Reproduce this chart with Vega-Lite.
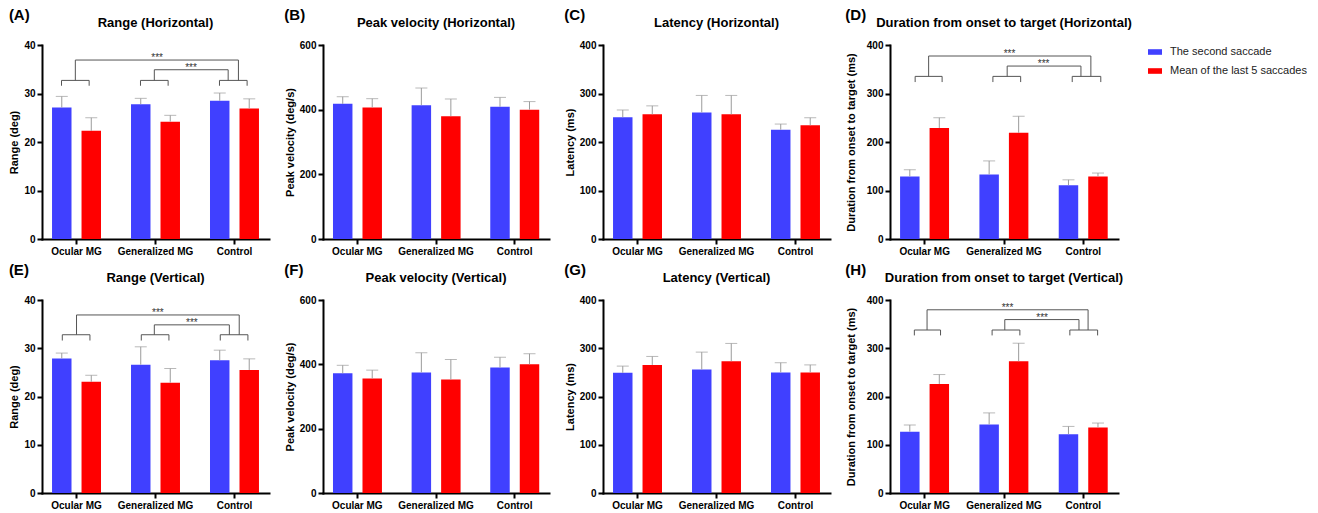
{
"$schema": "https://vega.github.io/schema/vega-lite/v6.json",
"padding": {"left": 8, "top": 8, "right": 0, "bottom": 0},
"datasets": {
"bars": [
{"panel":"A","group":"Ocular MG","series":"The second saccade","mean":27.1,"upper":29.4},
{"panel":"A","group":"Ocular MG","series":"Mean of the last 5 saccades","mean":22.3,"upper":25.0},
{"panel":"A","group":"Generalized MG","series":"The second saccade","mean":27.8,"upper":29.0},
{"panel":"A","group":"Generalized MG","series":"Mean of the last 5 saccades","mean":24.2,"upper":25.5},
{"panel":"A","group":"Control","series":"The second saccade","mean":28.5,"upper":30.1},
{"panel":"A","group":"Control","series":"Mean of the last 5 saccades","mean":26.9,"upper":28.9},
{"panel":"B","group":"Ocular MG","series":"The second saccade","mean":418,"upper":440},
{"panel":"B","group":"Ocular MG","series":"Mean of the last 5 saccades","mean":407,"upper":434},
{"panel":"B","group":"Generalized MG","series":"The second saccade","mean":414,"upper":467},
{"panel":"B","group":"Generalized MG","series":"Mean of the last 5 saccades","mean":380,"upper":433},
{"panel":"B","group":"Control","series":"The second saccade","mean":409,"upper":438},
{"panel":"B","group":"Control","series":"Mean of the last 5 saccades","mean":400,"upper":425},
{"panel":"C","group":"Ocular MG","series":"The second saccade","mean":251,"upper":266},
{"panel":"C","group":"Ocular MG","series":"Mean of the last 5 saccades","mean":257,"upper":274.5},
{"panel":"C","group":"Generalized MG","series":"The second saccade","mean":261,"upper":296},
{"panel":"C","group":"Generalized MG","series":"Mean of the last 5 saccades","mean":257,"upper":296},
{"panel":"C","group":"Control","series":"The second saccade","mean":225.5,"upper":237},
{"panel":"C","group":"Control","series":"Mean of the last 5 saccades","mean":234.5,"upper":250},
{"panel":"D","group":"Ocular MG","series":"The second saccade","mean":129,"upper":143},
{"panel":"D","group":"Ocular MG","series":"Mean of the last 5 saccades","mean":229,"upper":250},
{"panel":"D","group":"Generalized MG","series":"The second saccade","mean":133,"upper":161},
{"panel":"D","group":"Generalized MG","series":"Mean of the last 5 saccades","mean":219,"upper":253},
{"panel":"D","group":"Control","series":"The second saccade","mean":111,"upper":122},
{"panel":"D","group":"Control","series":"Mean of the last 5 saccades","mean":129,"upper":136},
{"panel":"E","group":"Ocular MG","series":"The second saccade","mean":27.9,"upper":29.0},
{"panel":"E","group":"Ocular MG","series":"Mean of the last 5 saccades","mean":23.05,"upper":24.4},
{"panel":"E","group":"Generalized MG","series":"The second saccade","mean":26.6,"upper":30.3},
{"panel":"E","group":"Generalized MG","series":"Mean of the last 5 saccades","mean":22.85,"upper":25.8},
{"panel":"E","group":"Control","series":"The second saccade","mean":27.5,"upper":29.6},
{"panel":"E","group":"Control","series":"Mean of the last 5 saccades","mean":25.5,"upper":27.8},
{"panel":"F","group":"Ocular MG","series":"The second saccade","mean":372,"upper":397},
{"panel":"F","group":"Ocular MG","series":"Mean of the last 5 saccades","mean":356,"upper":382},
{"panel":"F","group":"Generalized MG","series":"The second saccade","mean":375,"upper":436},
{"panel":"F","group":"Generalized MG","series":"Mean of the last 5 saccades","mean":353,"upper":415},
{"panel":"F","group":"Control","series":"The second saccade","mean":390,"upper":422},
{"panel":"F","group":"Control","series":"Mean of the last 5 saccades","mean":400,"upper":433},
{"panel":"G","group":"Ocular MG","series":"The second saccade","mean":249,"upper":263},
{"panel":"G","group":"Ocular MG","series":"Mean of the last 5 saccades","mean":265.5,"upper":283},
{"panel":"G","group":"Generalized MG","series":"The second saccade","mean":256,"upper":292},
{"panel":"G","group":"Generalized MG","series":"Mean of the last 5 saccades","mean":273,"upper":310},
{"panel":"G","group":"Control","series":"The second saccade","mean":250,"upper":270},
{"panel":"G","group":"Control","series":"Mean of the last 5 saccades","mean":250,"upper":265.5},
{"panel":"H","group":"Ocular MG","series":"The second saccade","mean":127,"upper":141},
{"panel":"H","group":"Ocular MG","series":"Mean of the last 5 saccades","mean":226,"upper":245.5},
{"panel":"H","group":"Generalized MG","series":"The second saccade","mean":142,"upper":166},
{"panel":"H","group":"Generalized MG","series":"Mean of the last 5 saccades","mean":273,"upper":310.5},
{"panel":"H","group":"Control","series":"The second saccade","mean":122,"upper":138},
{"panel":"H","group":"Control","series":"Mean of the last 5 saccades","mean":136,"upper":145}
],
"brackets": [
{"panel":"A","x":-0.19,"x2":0.16,"y":32.7,"y2":32.7},
{"panel":"A","x":-0.19,"x2":-0.19,"y":31.6,"y2":32.7},
{"panel":"A","x":0.16,"x2":0.16,"y":31.6,"y2":32.7},
{"panel":"A","x":0.81,"x2":1.16,"y":32.7,"y2":32.7},
{"panel":"A","x":0.81,"x2":0.81,"y":31.6,"y2":32.7},
{"panel":"A","x":1.16,"x2":1.16,"y":31.6,"y2":32.7},
{"panel":"A","x":1.81,"x2":2.16,"y":32.7,"y2":32.7},
{"panel":"A","x":1.81,"x2":1.81,"y":31.6,"y2":32.7},
{"panel":"A","x":2.16,"x2":2.16,"y":31.6,"y2":32.7},
{"panel":"A","x":-0.015,"x2":-0.015,"y":32.7,"y2":36.9},
{"panel":"A","x":-0.015,"x2":2.05,"y":36.9,"y2":36.9},
{"panel":"A","x":2.05,"x2":2.05,"y":32.7,"y2":36.9},
{"panel":"A","x":0.985,"x2":0.985,"y":32.7,"y2":34.9},
{"panel":"A","x":0.985,"x2":1.92,"y":34.9,"y2":34.9},
{"panel":"A","x":1.92,"x2":1.92,"y":32.7,"y2":34.9},
{"panel":"E","x":-0.18,"x2":0.17,"y":32.8,"y2":32.8},
{"panel":"E","x":-0.18,"x2":-0.18,"y":31.6,"y2":32.8},
{"panel":"E","x":0.17,"x2":0.17,"y":31.6,"y2":32.8},
{"panel":"E","x":0.82,"x2":1.17,"y":32.8,"y2":32.8},
{"panel":"E","x":0.82,"x2":0.82,"y":31.6,"y2":32.8},
{"panel":"E","x":1.17,"x2":1.17,"y":31.6,"y2":32.8},
{"panel":"E","x":1.82,"x2":2.17,"y":32.8,"y2":32.8},
{"panel":"E","x":1.82,"x2":1.82,"y":31.6,"y2":32.8},
{"panel":"E","x":2.17,"x2":2.17,"y":31.6,"y2":32.8},
{"panel":"E","x":0.0,"x2":0.0,"y":32.8,"y2":36.9},
{"panel":"E","x":0.0,"x2":2.06,"y":36.9,"y2":36.9},
{"panel":"E","x":2.06,"x2":2.06,"y":32.8,"y2":36.9},
{"panel":"E","x":0.985,"x2":0.985,"y":32.8,"y2":34.85},
{"panel":"E","x":0.985,"x2":1.935,"y":34.85,"y2":34.85},
{"panel":"E","x":1.935,"x2":1.935,"y":32.8,"y2":34.85},
{"panel":"D","x":-0.12,"x2":0.22,"y":335.3,"y2":335.3},
{"panel":"D","x":-0.12,"x2":-0.12,"y":323.6,"y2":335.3},
{"panel":"D","x":0.22,"x2":0.22,"y":323.6,"y2":335.3},
{"panel":"D","x":0.86,"x2":1.21,"y":335.3,"y2":335.3},
{"panel":"D","x":0.86,"x2":0.86,"y":323.6,"y2":335.3},
{"panel":"D","x":1.21,"x2":1.21,"y":323.6,"y2":335.3},
{"panel":"D","x":1.86,"x2":2.22,"y":335.3,"y2":335.3},
{"panel":"D","x":1.86,"x2":1.86,"y":323.6,"y2":335.3},
{"panel":"D","x":2.22,"x2":2.22,"y":323.6,"y2":335.3},
{"panel":"D","x":0.05,"x2":0.05,"y":335.3,"y2":377.3},
{"panel":"D","x":0.05,"x2":2.095,"y":377.3,"y2":377.3},
{"panel":"D","x":2.095,"x2":2.095,"y":335.3,"y2":377.3},
{"panel":"D","x":1.04,"x2":1.04,"y":335.3,"y2":356.6},
{"panel":"D","x":1.04,"x2":1.97,"y":356.6,"y2":356.6},
{"panel":"D","x":1.97,"x2":1.97,"y":335.3,"y2":356.6},
{"panel":"H","x":-0.13,"x2":0.2,"y":337.8,"y2":337.8},
{"panel":"H","x":-0.13,"x2":-0.13,"y":326.6,"y2":337.8},
{"panel":"H","x":0.2,"x2":0.2,"y":326.6,"y2":337.8},
{"panel":"H","x":0.85,"x2":1.2,"y":337.8,"y2":337.8},
{"panel":"H","x":0.85,"x2":0.85,"y":326.6,"y2":337.8},
{"panel":"H","x":1.2,"x2":1.2,"y":326.6,"y2":337.8},
{"panel":"H","x":1.83,"x2":2.18,"y":337.8,"y2":337.8},
{"panel":"H","x":1.83,"x2":1.83,"y":326.6,"y2":337.8},
{"panel":"H","x":2.18,"x2":2.18,"y":326.6,"y2":337.8},
{"panel":"H","x":0.03,"x2":0.03,"y":337.8,"y2":379.7},
{"panel":"H","x":0.03,"x2":2.06,"y":379.7,"y2":379.7},
{"panel":"H","x":2.06,"x2":2.06,"y":337.8,"y2":379.7},
{"panel":"H","x":1.01,"x2":1.01,"y":337.8,"y2":359.4},
{"panel":"H","x":1.01,"x2":1.945,"y":359.4,"y2":359.4},
{"panel":"H","x":1.945,"x2":1.945,"y":337.8,"y2":359.4}
],
"stars": [
{"panel":"A","x":1.02,"y":36.9,"label":"***"},
{"panel":"A","x":1.45,"y":34.9,"label":"***"},
{"panel":"E","x":1.03,"y":36.9,"label":"***"},
{"panel":"E","x":1.46,"y":34.85,"label":"***"},
{"panel":"D","x":1.07,"y":377.3,"label":"***"},
{"panel":"D","x":1.5,"y":356.6,"label":"***"},
{"panel":"H","x":1.045,"y":379.7,"label":"***"},
{"panel":"H","x":1.48,"y":359.4,"label":"***"}
]
},
"config": {
"font": "Liberation Sans",
"view": {"stroke": null},
"axis": {"domainColor": "#000", "domainWidth": 2, "domainCap": "square", "tickColor": "#000", "tickWidth": 2, "tickSize": 5, "labelFontSize": 10, "labelFontWeight": "bold", "labelColor": "#000", "labelPadding": 2, "titleFontSize": 11, "titleFontWeight": "bold", "titleColor": "#000", "grid": false},
"axisY": {"titlePadding": 4},
"axisX": {"labelAngle": 0, "title": null},
"title": {"fontSize": 13, "fontWeight": "bold", "color": "#000", "offset": 10},
"legend": {"title": null, "offset": 16, "labelFontSize": 11, "labelColor": "#222", "symbolType": "M-1,-0.4H1V0.4H-1Z", "symbolSize": 196, "symbolStrokeWidth": 0, "rowPadding": 7, "labelOffset": 8}
},
"vconcat": [
{"hconcat": [
{"title": {"text": "(A)", "anchor": "start", "fontSize": 15, "offset": -6},
 "vconcat": [{
 "title": "Range  (Horizontal)", "width": 227, "height": 194,
 "layer": [
  {"data": {"name": "bars"}, "transform": [{"filter": "datum.panel === 'A'"}],
   "encoding": {
    "x": {"field": "group", "type": "nominal", "sort": ["Ocular MG", "Generalized MG", "Control"], "scale": {"paddingInner": 0.38, "paddingOuter": 0.127}},
    "xOffset": {"field": "series", "type": "nominal", "sort": ["The second saccade", "Mean of the last 5 saccades"], "scale": {"paddingInner": 0.34, "paddingOuter": 0}},
    "y": {"field": "mean", "type": "quantitative", "scale": {"domain": [0, 40], "nice": false}, "axis": {"title": "Range (deg)", "values": [0, 10, 20, 30, 40]}}
   },
   "layer": [
    {"mark": {"type": "bar"}, "encoding": {"color": {"field": "series", "type": "nominal", "scale": {"domain": ["The second saccade", "Mean of the last 5 saccades"], "range": ["#4040ff", "#ff0000"]}}}},
    {"mark": {"type": "rule", "color": "#9b9b9b", "strokeWidth": 1}, "encoding": {"y2": {"field": "upper"}}},
    {"mark": {"type": "tick", "color": "#9b9b9b", "thickness": 1, "size": 12}, "encoding": {"y": {"field": "upper", "type": "quantitative", "axis": {"title": "Range (deg)", "values": [0, 10, 20, 30, 40]}}}}
   ]},
  {"data": {"name": "brackets"}, "transform": [{"filter": "datum.panel === 'A'"}],
   "mark": {"type": "rule", "color": "#555555", "strokeWidth": 1},
   "encoding": {"x": {"field": "x", "type": "quantitative", "scale": {"domain": [-0.437, 2.437], "nice": false, "zero": false}, "axis": null}, "x2": {"field": "x2"}, "y": {"field": "y", "type": "quantitative", "axis": {"title": "Range (deg)", "values": [0, 10, 20, 30, 40]}}, "y2": {"field": "y2"}}},
  {"data": {"name": "stars"}, "transform": [{"filter": "datum.panel === 'A'"}],
   "mark": {"type": "text", "fontSize": 10, "color": "#333333", "baseline": "alphabetic", "dy": 1},
   "encoding": {"x": {"field": "x", "type": "quantitative", "scale": {"domain": [-0.437, 2.437], "nice": false, "zero": false}, "axis": null}, "y": {"field": "y", "type": "quantitative", "axis": {"title": "Range (deg)", "values": [0, 10, 20, 30, 40]}}, "text": {"field": "label"}}}
 ],
 "resolve": {"scale": {"x": "independent"}, "axis": {"x": "independent"}}
}]},
{"title": {"text": "(B)", "anchor": "start", "fontSize": 15, "offset": -6},
 "vconcat": [{
 "title": "Peak velocity (Horizontal)", "width": 226, "height": 194,
 "data": {"name": "bars"}, "transform": [{"filter": "datum.panel === 'B'"}],
 "encoding": {
  "x": {"field": "group", "type": "nominal", "sort": ["Ocular MG", "Generalized MG", "Control"], "scale": {"paddingInner": 0.38, "paddingOuter": 0.127}},
  "xOffset": {"field": "series", "type": "nominal", "sort": ["The second saccade", "Mean of the last 5 saccades"], "scale": {"paddingInner": 0.34, "paddingOuter": 0}},
  "y": {"field": "mean", "type": "quantitative", "scale": {"domain": [0, 600], "nice": false}, "axis": {"title": "Peak velocity  (deg/s)", "values": [0, 200, 400, 600]}}
 },
 "layer": [
  {"mark": {"type": "bar"}, "encoding": {"color": {"field": "series", "type": "nominal", "scale": {"domain": ["The second saccade", "Mean of the last 5 saccades"], "range": ["#4040ff", "#ff0000"]}}}},
  {"mark": {"type": "rule", "color": "#9b9b9b", "strokeWidth": 1}, "encoding": {"y2": {"field": "upper"}}},
  {"mark": {"type": "tick", "color": "#9b9b9b", "thickness": 1, "size": 12}, "encoding": {"y": {"field": "upper", "type": "quantitative", "axis": {"title": "Peak velocity  (deg/s)", "values": [0, 200, 400, 600]}}}}
 ]
}]},
{"title": {"text": "(C)", "anchor": "start", "fontSize": 15, "offset": -6},
 "vconcat": [{
 "title": "Latency (Horizontal)", "width": 227, "height": 194,
 "data": {"name": "bars"}, "transform": [{"filter": "datum.panel === 'C'"}],
 "encoding": {
  "x": {"field": "group", "type": "nominal", "sort": ["Ocular MG", "Generalized MG", "Control"], "scale": {"paddingInner": 0.38, "paddingOuter": 0.127}},
  "xOffset": {"field": "series", "type": "nominal", "sort": ["The second saccade", "Mean of the last 5 saccades"], "scale": {"paddingInner": 0.34, "paddingOuter": 0}},
  "y": {"field": "mean", "type": "quantitative", "scale": {"domain": [0, 400], "nice": false}, "axis": {"title": "Latency (ms)", "values": [0, 100, 200, 300, 400]}}
 },
 "layer": [
  {"mark": {"type": "bar"}, "encoding": {"color": {"field": "series", "type": "nominal", "scale": {"domain": ["The second saccade", "Mean of the last 5 saccades"], "range": ["#4040ff", "#ff0000"]}}}},
  {"mark": {"type": "rule", "color": "#9b9b9b", "strokeWidth": 1}, "encoding": {"y2": {"field": "upper"}}},
  {"mark": {"type": "tick", "color": "#9b9b9b", "thickness": 1, "size": 12}, "encoding": {"y": {"field": "upper", "type": "quantitative", "axis": {"title": "Latency (ms)", "values": [0, 100, 200, 300, 400]}}}}
 ]
}]},
{"title": {"text": "(D)", "anchor": "start", "fontSize": 15, "offset": -6},
 "vconcat": [{
 "title": "Duration from onset to target (Horizontal)", "width": 228, "height": 194,
 "layer": [
  {"data": {"name": "bars"}, "transform": [{"filter": "datum.panel === 'D'"}],
   "encoding": {
    "x": {"field": "group", "type": "nominal", "sort": ["Ocular MG", "Generalized MG", "Control"], "scale": {"paddingInner": 0.38, "paddingOuter": 0.127}},
    "xOffset": {"field": "series", "type": "nominal", "sort": ["The second saccade", "Mean of the last 5 saccades"], "scale": {"paddingInner": 0.34, "paddingOuter": 0}},
    "y": {"field": "mean", "type": "quantitative", "scale": {"domain": [0, 400], "nice": false}, "axis": {"title": "Duration from onset to target (ms)", "values": [0, 100, 200, 300, 400], "titlePadding": 10}}
   },
   "layer": [
    {"mark": {"type": "bar"}, "encoding": {"color": {"field": "series", "type": "nominal", "scale": {"domain": ["The second saccade", "Mean of the last 5 saccades"], "range": ["#4040ff", "#ff0000"]}}}},
    {"mark": {"type": "rule", "color": "#9b9b9b", "strokeWidth": 1}, "encoding": {"y2": {"field": "upper"}}},
    {"mark": {"type": "tick", "color": "#9b9b9b", "thickness": 1, "size": 12}, "encoding": {"y": {"field": "upper", "type": "quantitative", "axis": {"title": "Duration from onset to target (ms)", "values": [0, 100, 200, 300, 400], "titlePadding": 10}}}}
   ]},
  {"data": {"name": "brackets"}, "transform": [{"filter": "datum.panel === 'D'"}],
   "mark": {"type": "rule", "color": "#555555", "strokeWidth": 1},
   "encoding": {"x": {"field": "x", "type": "quantitative", "scale": {"domain": [-0.437, 2.437], "nice": false, "zero": false}, "axis": null}, "x2": {"field": "x2"}, "y": {"field": "y", "type": "quantitative", "axis": {"title": "Duration from onset to target (ms)", "values": [0, 100, 200, 300, 400], "titlePadding": 10}}, "y2": {"field": "y2"}}},
  {"data": {"name": "stars"}, "transform": [{"filter": "datum.panel === 'D'"}],
   "mark": {"type": "text", "fontSize": 10, "color": "#333333", "baseline": "alphabetic", "dy": 1},
   "encoding": {"x": {"field": "x", "type": "quantitative", "scale": {"domain": [-0.437, 2.437], "nice": false, "zero": false}, "axis": null}, "y": {"field": "y", "type": "quantitative", "axis": {"title": "Duration from onset to target (ms)", "values": [0, 100, 200, 300, 400], "titlePadding": 10}}, "text": {"field": "label"}}}
 ],
 "resolve": {"scale": {"x": "independent"}, "axis": {"x": "independent"}}
}]}
],
"spacing": 15},
{"hconcat": [
{"title": {"text": "(E)", "anchor": "start", "fontSize": 15, "offset": -6},
 "vconcat": [{
 "title": "Range (Vertical)", "width": 227, "height": 193,
 "layer": [
  {"data": {"name": "bars"}, "transform": [{"filter": "datum.panel === 'E'"}],
   "encoding": {
    "x": {"field": "group", "type": "nominal", "sort": ["Ocular MG", "Generalized MG", "Control"], "scale": {"paddingInner": 0.38, "paddingOuter": 0.127}},
    "xOffset": {"field": "series", "type": "nominal", "sort": ["The second saccade", "Mean of the last 5 saccades"], "scale": {"paddingInner": 0.34, "paddingOuter": 0}},
    "y": {"field": "mean", "type": "quantitative", "scale": {"domain": [0, 40], "nice": false}, "axis": {"title": "Range (deg)", "values": [0, 10, 20, 30, 40]}}
   },
   "layer": [
    {"mark": {"type": "bar"}, "encoding": {"color": {"field": "series", "type": "nominal", "scale": {"domain": ["The second saccade", "Mean of the last 5 saccades"], "range": ["#4040ff", "#ff0000"]}}}},
    {"mark": {"type": "rule", "color": "#9b9b9b", "strokeWidth": 1}, "encoding": {"y2": {"field": "upper"}}},
    {"mark": {"type": "tick", "color": "#9b9b9b", "thickness": 1, "size": 12}, "encoding": {"y": {"field": "upper", "type": "quantitative", "axis": {"title": "Range (deg)", "values": [0, 10, 20, 30, 40]}}}}
   ]},
  {"data": {"name": "brackets"}, "transform": [{"filter": "datum.panel === 'E'"}],
   "mark": {"type": "rule", "color": "#555555", "strokeWidth": 1},
   "encoding": {"x": {"field": "x", "type": "quantitative", "scale": {"domain": [-0.437, 2.437], "nice": false, "zero": false}, "axis": null}, "x2": {"field": "x2"}, "y": {"field": "y", "type": "quantitative", "axis": {"title": "Range (deg)", "values": [0, 10, 20, 30, 40]}}, "y2": {"field": "y2"}}},
  {"data": {"name": "stars"}, "transform": [{"filter": "datum.panel === 'E'"}],
   "mark": {"type": "text", "fontSize": 10, "color": "#333333", "baseline": "alphabetic", "dy": 1},
   "encoding": {"x": {"field": "x", "type": "quantitative", "scale": {"domain": [-0.437, 2.437], "nice": false, "zero": false}, "axis": null}, "y": {"field": "y", "type": "quantitative", "axis": {"title": "Range (deg)", "values": [0, 10, 20, 30, 40]}}, "text": {"field": "label"}}}
 ],
 "resolve": {"scale": {"x": "independent"}, "axis": {"x": "independent"}}
}]},
{"title": {"text": "(F)", "anchor": "start", "fontSize": 15, "offset": -6},
 "vconcat": [{
 "title": "Peak velocity (Vertical)", "width": 226, "height": 193,
 "data": {"name": "bars"}, "transform": [{"filter": "datum.panel === 'F'"}],
 "encoding": {
  "x": {"field": "group", "type": "nominal", "sort": ["Ocular MG", "Generalized MG", "Control"], "scale": {"paddingInner": 0.38, "paddingOuter": 0.127}},
  "xOffset": {"field": "series", "type": "nominal", "sort": ["The second saccade", "Mean of the last 5 saccades"], "scale": {"paddingInner": 0.34, "paddingOuter": 0}},
  "y": {"field": "mean", "type": "quantitative", "scale": {"domain": [0, 600], "nice": false}, "axis": {"title": "Peak velocity (deg/s)", "values": [0, 200, 400, 600]}}
 },
 "layer": [
  {"mark": {"type": "bar"}, "encoding": {"color": {"field": "series", "type": "nominal", "scale": {"domain": ["The second saccade", "Mean of the last 5 saccades"], "range": ["#4040ff", "#ff0000"]}}}},
  {"mark": {"type": "rule", "color": "#9b9b9b", "strokeWidth": 1}, "encoding": {"y2": {"field": "upper"}}},
  {"mark": {"type": "tick", "color": "#9b9b9b", "thickness": 1, "size": 12}, "encoding": {"y": {"field": "upper", "type": "quantitative", "axis": {"title": "Peak velocity (deg/s)", "values": [0, 200, 400, 600]}}}}
 ]
}]},
{"title": {"text": "(G)", "anchor": "start", "fontSize": 15, "offset": -6},
 "vconcat": [{
 "title": "Latency (Vertical)", "width": 227, "height": 193,
 "data": {"name": "bars"}, "transform": [{"filter": "datum.panel === 'G'"}],
 "encoding": {
  "x": {"field": "group", "type": "nominal", "sort": ["Ocular MG", "Generalized MG", "Control"], "scale": {"paddingInner": 0.38, "paddingOuter": 0.127}},
  "xOffset": {"field": "series", "type": "nominal", "sort": ["The second saccade", "Mean of the last 5 saccades"], "scale": {"paddingInner": 0.34, "paddingOuter": 0}},
  "y": {"field": "mean", "type": "quantitative", "scale": {"domain": [0, 400], "nice": false}, "axis": {"title": "Latency (ms)", "values": [0, 100, 200, 300, 400]}}
 },
 "layer": [
  {"mark": {"type": "bar"}, "encoding": {"color": {"field": "series", "type": "nominal", "scale": {"domain": ["The second saccade", "Mean of the last 5 saccades"], "range": ["#4040ff", "#ff0000"]}}}},
  {"mark": {"type": "rule", "color": "#9b9b9b", "strokeWidth": 1}, "encoding": {"y2": {"field": "upper"}}},
  {"mark": {"type": "tick", "color": "#9b9b9b", "thickness": 1, "size": 12}, "encoding": {"y": {"field": "upper", "type": "quantitative", "axis": {"title": "Latency (ms)", "values": [0, 100, 200, 300, 400]}}}}
 ]
}]},
{"title": {"text": "(H)", "anchor": "start", "fontSize": 15, "offset": -6},
 "vconcat": [{
 "title": "Duration from onset to target (Vertical)", "width": 228, "height": 193,
 "layer": [
  {"data": {"name": "bars"}, "transform": [{"filter": "datum.panel === 'H'"}],
   "encoding": {
    "x": {"field": "group", "type": "nominal", "sort": ["Ocular MG", "Generalized MG", "Control"], "scale": {"paddingInner": 0.38, "paddingOuter": 0.127}},
    "xOffset": {"field": "series", "type": "nominal", "sort": ["The second saccade", "Mean of the last 5 saccades"], "scale": {"paddingInner": 0.34, "paddingOuter": 0}},
    "y": {"field": "mean", "type": "quantitative", "scale": {"domain": [0, 400], "nice": false}, "axis": {"title": "Duration from onset to target (ms)", "values": [0, 100, 200, 300, 400], "titlePadding": 10}}
   },
   "layer": [
    {"mark": {"type": "bar"}, "encoding": {"color": {"field": "series", "type": "nominal", "scale": {"domain": ["The second saccade", "Mean of the last 5 saccades"], "range": ["#4040ff", "#ff0000"]}}}},
    {"mark": {"type": "rule", "color": "#9b9b9b", "strokeWidth": 1}, "encoding": {"y2": {"field": "upper"}}},
    {"mark": {"type": "tick", "color": "#9b9b9b", "thickness": 1, "size": 12}, "encoding": {"y": {"field": "upper", "type": "quantitative", "axis": {"title": "Duration from onset to target (ms)", "values": [0, 100, 200, 300, 400], "titlePadding": 10}}}}
   ]},
  {"data": {"name": "brackets"}, "transform": [{"filter": "datum.panel === 'H'"}],
   "mark": {"type": "rule", "color": "#555555", "strokeWidth": 1},
   "encoding": {"x": {"field": "x", "type": "quantitative", "scale": {"domain": [-0.437, 2.437], "nice": false, "zero": false}, "axis": null}, "x2": {"field": "x2"}, "y": {"field": "y", "type": "quantitative", "axis": {"title": "Duration from onset to target (ms)", "values": [0, 100, 200, 300, 400], "titlePadding": 10}}, "y2": {"field": "y2"}}},
  {"data": {"name": "stars"}, "transform": [{"filter": "datum.panel === 'H'"}],
   "mark": {"type": "text", "fontSize": 10, "color": "#333333", "baseline": "alphabetic", "dy": 1},
   "encoding": {"x": {"field": "x", "type": "quantitative", "scale": {"domain": [-0.437, 2.437], "nice": false, "zero": false}, "axis": null}, "y": {"field": "y", "type": "quantitative", "axis": {"title": "Duration from onset to target (ms)", "values": [0, 100, 200, 300, 400], "titlePadding": 10}}, "text": {"field": "label"}}}
 ],
 "resolve": {"scale": {"x": "independent"}, "axis": {"x": "independent"}}
}]}
],
"spacing": 15}
],
"spacing": 7
}
